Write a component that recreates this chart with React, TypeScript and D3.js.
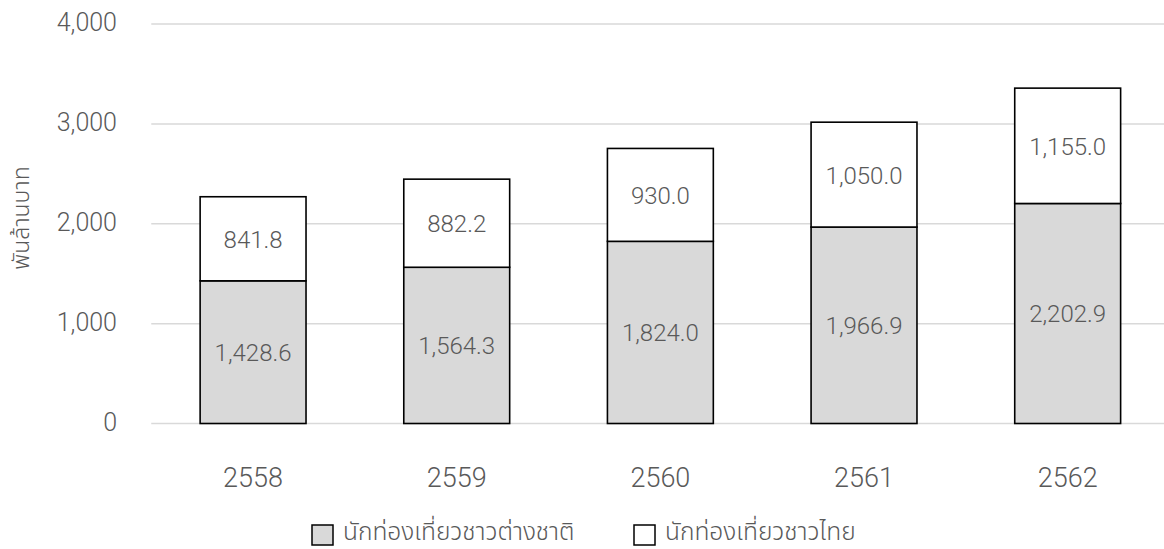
import React, { useEffect } from "react";
import * as d3 from "d3";

const years = ["2558", "2559", "2560", "2561", "2562"];
const foreignValues = [1428.6, 1564.3, 1824.0, 1966.9, 2202.9];
const thaiValues = [841.8, 882.2, 930.0, 1050.0, 1155.0];
const yTicks = [0, 1000, 2000, 3000, 4000];
const seriesNames = ["นักท่องเที่ยวชาวต่างชาติ", "นักท่องเที่ยวชาวไทย"];
const yTitle = "พันล้านบาท";

const W = 1164;
const H = 549;
const left = 151.25;
const right = 1169.5;
const top = 24;
const bottom = 423.5;
const textColor = "#595959";
const gridColor = "#d9d9d9";
const foreignFill = "#d9d9d9";
const fontFamily = "Roboto, 'Noto Sans Thai', 'Noto Sans', sans-serif";

export default function App() {
  useEffect(() => {
    document.body.style.margin = "0";
  }, []);

  const x = d3.scaleBand<string>().domain(years).range([left, right]).paddingInner(0.48).paddingOuter(0.24);
  const y = d3.scaleLinear().domain([0, 4000]).range([bottom, top]);
  const fmt = d3.format(",.1f");
  const tickFmt = d3.format(",");

  const stackData = years.map((yr, i) => ({ year: yr, foreign: foreignValues[i], thai: thaiValues[i] }));
  const stack = d3.stack<any>().keys(["foreign", "thai"])(stackData);
  const fills = [foreignFill, "#ffffff"];

  return (
    <svg width={W} height={H} style={{ display: "block", fontFamily, fontWeight: 300 }}>
      <rect width={W} height={H} fill="#ffffff" />
      {yTicks.map((t) => (
        <g key={t}>
          <line x1={left} x2={right} y1={y(t)} y2={y(t)} stroke={gridColor} strokeWidth={1.5} />
          <text x={117} y={y(t) + 7} textAnchor="end" fontSize={25} fill={textColor}>
            {tickFmt(t)}
          </text>
        </g>
      ))}
      <text
        transform={`translate(${29},${218}) rotate(-90)`}
        textAnchor="middle"
        fontSize={23}
        fill={textColor}
      >
        {yTitle}
      </text>
      {stack.map((layer, li) => (
        <g key={li}>
          {layer.map((d, i) => (
            <rect
              key={i}
              x={x(years[i])!}
              width={x.bandwidth()}
              y={y(d[1])}
              height={y(d[0]) - y(d[1])}
              fill={fills[li]}
              stroke="#000000"
              strokeWidth={1.6}
            />
          ))}
        </g>
      ))}
      {stack.map((layer, li) => (
        <g key={"l" + li}>
          {layer.map((d, i) => (
            <text
              key={i}
              x={x(years[i])! + x.bandwidth() / 2}
              y={(y(d[0]) + y(d[1])) / 2 + 9}
              textAnchor="middle"
              fontSize={24}
              fill={textColor}
            >
              {fmt(d[1] - d[0])}
            </text>
          ))}
        </g>
      ))}
      {years.map((yr) => (
        <text key={yr} x={x(yr)! + x.bandwidth() / 2} y={487} textAnchor="middle" fontSize={27} fill={textColor}>
          {yr}
        </text>
      ))}
      {seriesNames.map((name, i) => {
        const lx = [312, 634][i];
        return (
          <g key={name}>
            <rect x={lx} y={525} width={21} height={20} fill={fills[i]} stroke="#000000" strokeWidth={1.5} />
            <text x={lx + 31} y={540} fontSize={24.5} fill={textColor}>
              {name}
            </text>
          </g>
        );
      })}
    </svg>
  );
}
